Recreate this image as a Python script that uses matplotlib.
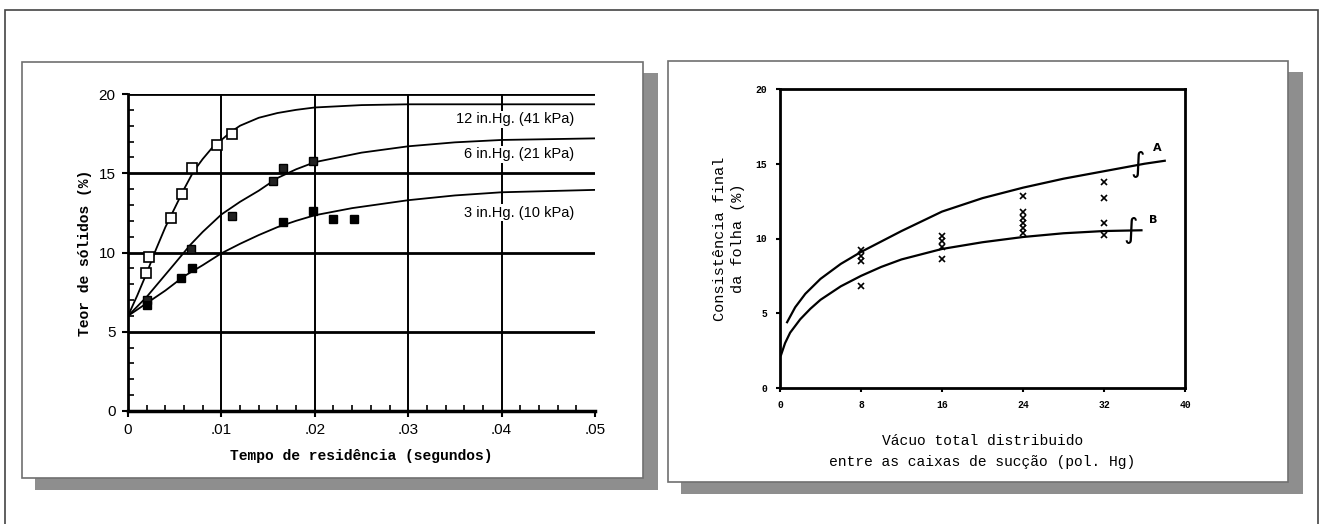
import matplotlib
matplotlib.use('Agg')
import matplotlib.pyplot as plt
from matplotlib.patches import Rectangle
from matplotlib.ticker import MultipleLocator

W, H = 1319, 524
MONO = 'Liberation Mono'
SANS = ['Liberation Sans Narrow', 'Liberation Sans', 'DejaVu Sans']
SHADOW = '#8e8e8e'

# left chart: residence time (s) vs solids content (%)
t_12_curve = [0, 0.001, 0.002, 0.003, 0.004, 0.005, 0.006, 0.007, 0.008, 0.009, 0.010, 0.011,
              0.012, 0.014, 0.016, 0.018, 0.020, 0.025, 0.030, 0.040, 0.050]
y_12_curve = [6.0, 7.3, 8.7, 10.2, 11.6, 12.8, 14.0, 15.1, 15.9, 16.6, 17.1, 17.6,
              18.0, 18.5, 18.8, 19.0, 19.15, 19.3, 19.35, 19.35, 19.35]
t_6_curve = [0, 0.001, 0.002, 0.003, 0.004, 0.005, 0.0067, 0.008, 0.010, 0.012, 0.014, 0.016,
             0.018, 0.020, 0.025, 0.030, 0.035, 0.040, 0.050]
y_6_curve = [6.0, 6.6, 7.2, 7.9, 8.6, 9.3, 10.5, 11.3, 12.4, 13.2, 13.9, 14.7,
             15.25, 15.7, 16.3, 16.7, 16.95, 17.1, 17.2]
t_3_curve = [0, 0.002, 0.004, 0.006, 0.008, 0.010, 0.012, 0.014, 0.016, 0.018, 0.020,
             0.024, 0.030, 0.035, 0.040, 0.050]
y_3_curve = [6.0, 6.8, 7.6, 8.5, 9.2, 9.95, 10.55, 11.1, 11.6, 12.0, 12.35,
             12.8, 13.3, 13.6, 13.8, 13.95]

t_12_pts = [0.0019, 0.0023, 0.0046, 0.0058, 0.0068, 0.0095, 0.0111]
y_12_pts = [8.7, 9.7, 12.2, 13.7, 15.3, 16.8, 17.5]
t_6_pts = [0.002, 0.0067, 0.0111, 0.0155, 0.0166, 0.0198]
y_6_pts = [7.0, 10.2, 12.3, 14.5, 15.3, 15.8]
t_3_pts = [0.002, 0.0057, 0.0068, 0.0166, 0.0198, 0.022, 0.0242]
y_3_pts = [6.7, 8.4, 9.0, 11.9, 12.6, 12.1, 12.1]

curve_labels = ['12 in.Hg. (41 kPa)', '6 in.Hg. (21 kPa)', '3 in.Hg. (10 kPa)']
label_y = [18.4, 16.2, 12.5]

# right chart: total vacuum (pol. Hg) vs final consistency (%)
x_A = [0.7, 1.5, 2.5, 4, 6, 8, 10, 12, 16, 20, 24, 28, 32, 36, 38]
y_A = [4.4, 5.4, 6.3, 7.3, 8.3, 9.1, 9.8, 10.5, 11.8, 12.7, 13.4, 14.0, 14.5, 15.0, 15.2]
x_B = [0.1, 0.5, 1, 2, 3, 4, 6, 8, 10, 12, 16, 20, 24, 28, 32, 35.7]
y_B = [2.2, 3.0, 3.7, 4.6, 5.3, 5.9, 6.8, 7.5, 8.1, 8.6, 9.3, 9.75, 10.1, 10.35, 10.5, 10.55]
x_obs = [8, 8, 8, 8, 16, 16, 16, 16, 24, 24, 24, 24, 24, 24, 32, 32, 32, 32]
y_obs = [9.2, 8.85, 8.5, 6.85, 10.2, 9.8, 9.4, 8.6, 12.85, 11.8, 11.4, 11.05, 10.7, 10.4,
         13.8, 12.7, 11.05, 10.25]


def px(x0, y0, x1, y1):
    # pixel box -> figure fraction
    return [x0 / W, 1 - y1 / H, (x1 - x0) / W, (y1 - y0) / H]


def panel(bg, x0, y0, x1, y1):
    # white card with grey drop shadow to the right and below
    bg.add_patch(Rectangle((x1, y0 + 11), 15, y1 - y0 + 1, color=SHADOW, lw=0))
    bg.add_patch(Rectangle((x0 + 13, y1), x1 - x0 + 2, 12, color=SHADOW, lw=0))
    bg.add_patch(Rectangle((x0, y0), x1 - x0, y1 - y0, fc='white', ec='#707070', lw=1.2))


fig = plt.figure(figsize=(W / 100, H / 100), dpi=100)
bg = fig.add_axes([0, 0, 1, 1], zorder=-1)
bg.set_xlim(0, W)
bg.set_ylim(H, 0)
bg.axis('off')
bg.add_patch(Rectangle((5, 10), W - 6.5, H + 20, fc='white', ec='#444444', lw=1.2))
panel(bg, 22, 62, 643, 478)
panel(bg, 668, 61, 1288, 482)

### left chart
ax = fig.add_axes(px(128, 94, 595, 411))
ax.plot(t_12_curve, y_12_curve, color='black', lw=1.3, zorder=3)
ax.plot(t_6_curve, y_6_curve, color='black', lw=1.3, zorder=3)
ax.plot(t_3_curve, y_3_curve, color='black', lw=1.3, zorder=3)
ax.plot(t_12_pts, y_12_pts, 's', ms=6.5, mfc='white', mec='black', mew=1.2, zorder=4)
ax.plot(t_6_pts, y_6_pts, 's', ms=6, mfc='#222222', mec='black', mew=1, zorder=4)
ax.plot(t_3_pts, y_3_pts, 's', ms=6, mfc='black', mec='black', zorder=4)
for lab, yy in zip(curve_labels, label_y):
    ax.text(0.0478, yy, lab, ha='right', va='center', fontsize=10.5, family=SANS,
            bbox=dict(fc='white', ec='none', pad=1), zorder=5)

ax.set_xlim(0, 0.05)
ax.set_ylim(0, 20)
for yy in [5, 10, 15, 20]:
    ax.axhline(yy, color='black', lw=2, zorder=2)
for xx in [0.01, 0.02, 0.03, 0.04]:
    ax.axvline(xx, color='black', lw=1.4, zorder=2)
ax.spines['right'].set_visible(False)
ax.spines['top'].set_visible(False)
ax.spines['left'].set_linewidth(2)
ax.spines['bottom'].set_linewidth(2.5)
ax.xaxis.set_minor_locator(MultipleLocator(0.002))
ax.yaxis.set_major_locator(MultipleLocator(5))
ax.yaxis.set_minor_locator(MultipleLocator(1))
ax.set_xticks([0, 0.01, 0.02, 0.03, 0.04, 0.05])
ax.set_xticklabels(['0', '.01', '.02', '.03', '.04', '.05'])
ax.tick_params(which='major', length=4, width=1.5, labelsize=11, pad=5)
ax.tick_params(which='minor', direction='in', length=4, width=1.2)
for lab in ax.get_xticklabels() + ax.get_yticklabels():
    lab.set_family(SANS)
ax.set_xlabel('Tempo de residência (segundos)', family=MONO, fontsize=10.5,
              fontweight='bold', labelpad=8)
ax.set_ylabel('Teor de sólidos (%)', family=MONO, fontsize=10.5,
              fontweight='bold', labelpad=5)

### right chart
ax2 = fig.add_axes(px(780, 89, 1185, 388))
ax2.plot(x_A, y_A, color='black', lw=1.6)
ax2.plot(x_B, y_B, color='black', lw=1.6)
ax2.plot(x_obs, y_obs, 'x', color='black', ms=4, mew=1.2)
ax2.text(35.3, 15.0, '∫', fontsize=20, ha='center', va='center')
ax2.text(34.6, 10.55, '∫', fontsize=20, ha='center', va='center')
ax2.text(36.8, 15.7, 'A', fontsize=8, fontweight='bold', ha='left', va='bottom')
ax2.text(36.4, 10.9, 'B', fontsize=8, fontweight='bold', ha='left', va='bottom')
ax2.set_xlim(0, 40)
ax2.set_ylim(0, 20)
ax2.set_xticks([0, 8, 16, 24, 32, 40])
ax2.set_yticks([0, 5, 10, 15, 20])
for s in ax2.spines.values():
    s.set_linewidth(2)
ax2.tick_params(length=3, width=1.5, labelsize=7, pad=6)
for lab in ax2.get_xticklabels() + ax2.get_yticklabels():
    lab.set_fontweight('bold')
    lab.set_family(MONO)
ax2.set_xlabel('Vácuo total distribuido\nentre as caixas de sucção (pol. Hg)', family=MONO,
               fontsize=10.5, linespacing=1.6, labelpad=17)
ax2.set_ylabel('Consistência final\nda folha (%)', family=MONO, fontsize=11,
               linespacing=1.3, labelpad=8)

fig.savefig('out.png', dpi=100)
